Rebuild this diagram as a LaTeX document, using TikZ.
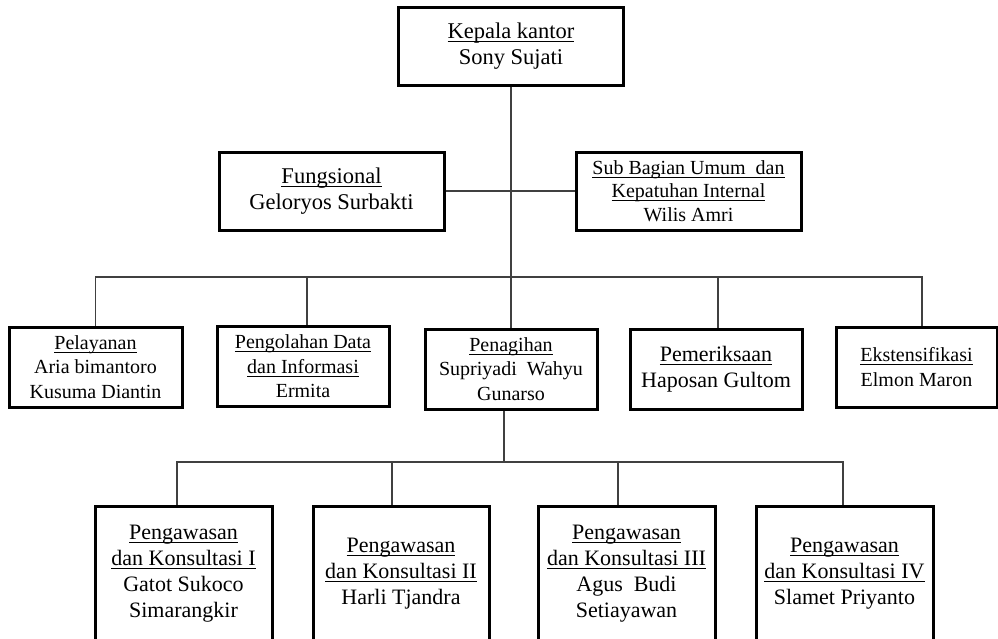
\documentclass[tikz,border=0pt]{standalone}
\usepackage{fontspec}
\setmainfont{Liberation Serif}

% underline at a fixed depth below the baseline
\newsavebox\undlbox
\newcommand{\undl}[1]{\sbox\undlbox{#1}\rlap{\rule[-3.5pt]{\wd\undlbox}{0.9pt}}\usebox\undlbox}

\begin{document}
\begin{tikzpicture}[x=1pt, y=-1pt,
    unitbox/.style={draw, line width=3pt, inner sep=0pt, align=center},
    topbox/.style={unitbox, minimum width=225pt, minimum height=78pt, font=\fontsize{22.5}{25.5}\selectfont},
    midbox/.style={unitbox, minimum width=172pt, minimum height=80pt, font=\fontsize{20}{24.5}\selectfont},
    lowbox/.style={unitbox, minimum width=177pt, minimum height=136pt, font=\fontsize{22}{26}\selectfont},
    garis/.style={draw=black!75, line width=1.1pt}]

    \useasboundingbox[fill=white] (0,0) rectangle (998,638);

    % Nodes
    \node[topbox] (kepala) at (511,46) {\undl{Kepala kantor}\\Sony Sujati};
    \node[topbox] (fungsi) at (331.5,191) {\undl{Fungsional}\\Geloryos Surbakti};
    \node[topbox, font=\fontsize{20}{23.5}\selectfont] (subbag) at (688.5,191) {\undl{Sub Bagian Umum\ \ dan}\\\undl{Kepatuhan Internal}\\Wilis Amri};

    \node[midbox, minimum width=173pt] (layan) at (95.5,367) {\undl{Pelayanan}\\Aria bimantoro\\Kusuma Diantin};
    \node[midbox] (olah) at (303,366.5) {\undl{Pengolahan Data}\\\undl{dan Informasi}\\Ermita};
    \node[midbox] (tagih) at (511,369) {\undl{Penagihan}\\Supriyadi\ \ Wahyu\\Gunarso};
    \node[midbox, font=\fontsize{22}{26}\selectfont] (periksa) at (716,369) {\undl{Pemeriksaan}\\Haposan Gultom};
    \node[midbox, minimum width=161pt] (ekstens) at (916.5,367) {\undl{Ekstensifikasi}\\Elmon Maron};

    \node[lowbox] (awas1) at (183.5,574) {\undl{Pengawasan}\\\undl{dan Konsultasi I}\\Gatot Sukoco\\Simarangkir};
    \node[lowbox, minimum width=176pt] (awas2) at (401,574) {\undl{Pengawasan}\\\undl{dan Konsultasi II}\\Harli Tjandra};
    \node[lowbox] (awas3) at (626.5,574) {\undl{Pengawasan}\\\undl{dan Konsultasi III}\\Agus\ \ Budi\\Setiayawan};
    \node[lowbox] (awas4) at (844.5,574) {\undl{Pengawasan}\\\undl{dan Konsultasi IV}\\Slamet Priyanto};

    % Connectors
    \coordinate (bus) at (511,277);
    \coordinate (bus2) at (504,462);

    \draw[garis] (kepala.south) -- (bus);
    \draw[garis] (fungsi) -- (subbag);
    \draw[garis] (layan.north) |- (bus) -| ([xshift=5.5pt]ekstens.north);
    \draw[garis] (tagih.north) -- (bus);
    \foreach \n/\s in {olah/4pt, periksa/2pt}
      \draw[garis] ([xshift=\s]\n.north) -- ([xshift=\s]\n.north |- bus);

    \draw[garis] ([xshift=-7pt]tagih.south) -- (bus2);
    \draw[garis] ([xshift=-6.5pt]awas1.north) |- (bus2) -| ([xshift=-1.5pt]awas4.north);
    \foreach \n/\s in {awas2/-9pt, awas3/-8.5pt}
      \draw[garis] ([xshift=\s]\n.north) -- ([xshift=\s]\n.north |- bus2);

\end{tikzpicture}
\end{document}
